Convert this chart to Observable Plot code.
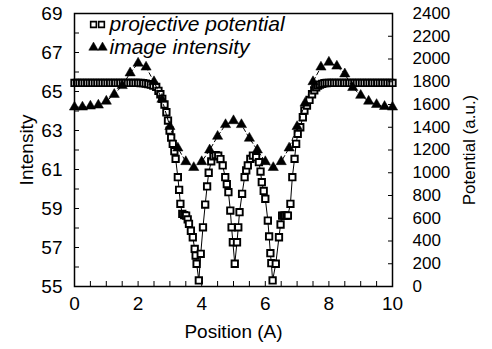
<!DOCTYPE html>
<html>
<head>
<meta charset="utf-8">
<script src="https://cdn.jsdelivr.net/npm/d3@7"></script>
<script src="https://cdn.jsdelivr.net/npm/@observablehq/plot@0.6"></script>
<style>
  html, body { margin: 0; padding: 0; background: white; }
  #chart { width: 492px; height: 349px; }
</style>
</head>
<body>
<div id="chart"></div>
<script>
// ---- data ----
const potX = [0,0.08,0.16,0.24,0.32,0.4,0.48,0.56,0.64,0.72,0.8,0.88,0.96,1.04,1.12,1.2,1.28,1.36,1.44,1.52,1.6,1.68,1.76,1.84,1.92,2.0,
  2.08,2.16,2.24,2.32,2.4,2.48,2.57,2.64,2.7,2.76,2.83,2.89,2.94,2.99,3.04,3.09,3.14,3.18,3.25,3.29,3.33,3.39,3.45,3.51,3.56,3.6,3.66,3.72,3.78,3.81,3.84,3.91,3.97,
  4.04,4.11,4.17,4.22,4.3,4.37,4.44,4.52,4.59,4.66,4.74,4.79,4.84,4.9,4.94,4.98,5.04,5.11,5.15,5.19,5.27,5.35,5.4,5.45,5.53,5.61,5.71,5.8,5.85,5.89,5.95,
  6.0,6.08,6.12,6.16,6.19,6.23,6.33,6.43,6.48,6.53,6.58,6.62,6.67,6.71,6.79,6.85,6.92,6.97,7.02,7.1,7.18,7.23,7.31,7.39,7.47,7.54,7.6,7.66,7.72,7.79,7.86,7.93,
  8.0,8.08,8.16,8.24,8.32,8.4,8.48,8.56,8.64,8.72,8.8,8.88,8.96,9.04,9.12,9.2,9.28,9.36,9.44,9.52,9.6,9.68,9.76,9.84,9.92,10.0];
const potential = [1790,1790,1790,1790,1790,1790,1790,1790,1790,1790,1790,1790,1790,1790,1790,1790,1790,1790,1790,1790,1790,1790,1790,1790,1790,1790,
  1789,1787,1784,1780,1774,1766,1755,1720,1690,1650,1600,1532,1459,1371,1310,1254,1190,1122,961,850,727,639,628,624,590,551,490,433,330,272,200,53,287,
  520,720,880,1000,1100,1145,1155,1150,1120,1064,961,900,829,668,520,389,200,389,520,653,815,961,1020,1064,1122,1151,1137,1093,1010,917,840,
  771,580,440,293,205,53,200,433,545,624,624,624,624,624,727,961,1122,1254,1342,1400,1488,1547,1591,1640,1690,1725,1750,1765,1775,1782,1787,1789,
  1790,1790,1790,1790,1790,1790,1790,1790,1790,1790,1790,1790,1790,1790,1790,1790,1790,1790,1790,1790,1790,1790,1790,1790,1790,1790];

const imgX = [0,0.25,0.5,0.75,1.0,1.25,1.5,1.75,2.0,2.25,2.5,2.75,3.0,3.25,3.5,3.75,4.0,4.25,4.5,4.75,5.0,
  5.25,5.5,5.75,6.0,6.25,6.5,6.75,7.0,7.25,7.5,7.75,8.0,8.25,8.5,8.75,9.0,9.25,9.5,9.75,10.0];
const intensity = [64.2,64.2,64.25,64.3,64.5,64.85,65.3,65.95,66.45,66.25,65.5,64.6,63.2,62.1,61.4,61.1,61.4,62.0,62.7,63.3,63.5,
  63.3,62.6,62.0,61.4,61.1,61.4,62.1,63.2,64.4,65.5,66.25,66.5,66.3,65.9,65.2,64.8,64.5,64.33,64.23,64.2];

const xTickLabels = [0,2,4,6,8,10];
const xTicks = [0,0.5,1,1.5,2,2.5,3,3.5,4,4.5,5,5.5,6,6.5,7,7.5,8,8.5,9,9.5,10];
const yTickLabels = [55,57,59,61,63,65,67,69];
const yTicks = [55,56,57,58,59,60,61,62,63,64,65,66,67,68,69];
const potTicks = [0,200,400,600,800,1000,1200,1400,1600,1800,2000,2200,2400];
const seriesNames = ["projective potential", "image intensity"];

// ---- mapping of the right (potential) axis onto the left (intensity) scale ----
const yMin = 55, yMax = 69, pMax = 2400;
const toY = p => yMin + p * (yMax - yMin) / pMax;
const toP = y => Math.round((y - yMin) * pMax / (yMax - yMin));

const potData = potX.map((x, i) => ({x, y: toY(potential[i])}));
const imgData = imgX.map((x, i) => ({x, y: intensity[i]}));

const font = "'Liberation Sans', Arial, Helvetica, sans-serif";
const sq = {symbol: "square", r: 3.6, stroke: "black", fill: "white", strokeWidth: 1.9};
const tri = {symbol: "triangle", r: 3.8, fill: "black", stroke: "black", strokeWidth: 0.5};

const chart = Plot.plot({
  width: 492,
  height: 349,
  marginLeft: 74,
  marginRight: 100,
  marginTop: 13,
  marginBottom: 63,
  x: {domain: [0, 10]},
  y: {domain: [yMin, yMax]},
  style: {fontFamily: font, fontSize: "20px", color: "black", background: "white", overflow: "visible"},
  marks: [
    Plot.line(potData, {x: "x", y: "y", stroke: "black", strokeWidth: 1}),
    Plot.dot(potData, {x: "x", y: "y", ...sq}),
    Plot.line(imgData, {x: "x", y: "y", stroke: "black", strokeWidth: 1, strokeDasharray: "4,3"}),
    Plot.dot(imgData, {x: "x", y: "y", ...tri}),
    Plot.frame({stroke: "black", strokeWidth: 1.5}),
    // inward ticks
    Plot.axisY(yTicks, {anchor: "left", tickSize: 5, dx: 5, tickFormat: () => "", label: null}),
    Plot.axisY(potTicks.map(toY), {anchor: "right", tickSize: 5, dx: -5, tickFormat: () => "", label: null}),
    Plot.axisX(xTicks, {anchor: "bottom", tickSize: 5, dy: -5, tickFormat: () => "", label: null}),
    // labels
    Plot.axisY(yTickLabels, {anchor: "left", tickSize: 0, tickPadding: 12, fontSize: 19,
      label: "Intensity", labelArrow: "none", labelAnchor: "center", labelOffset: 55}),
    Plot.axisY(potTicks.map(toY), {anchor: "right", tickSize: 0, tickPadding: 20, fontSize: 17,
      tickFormat: d => String(toP(d)), label: "Potential (a.u.)", labelArrow: "none", labelAnchor: "center", labelOffset: 82}),
    Plot.axisX(xTickLabels, {anchor: "bottom", tickSize: 0, tickPadding: 10, fontSize: 19,
      label: "Position (A)", labelArrow: "none", labelAnchor: "center", labelOffset: 51}),
    // legend
    Plot.dot([seriesNames[0]], {frameAnchor: "top-left", dx: 19, dy: 11, ...sq, r: 3.2, strokeWidth: 1.6}),
    Plot.dot([seriesNames[0]], {frameAnchor: "top-left", dx: 27, dy: 11, ...sq, r: 3.2, strokeWidth: 1.6}),
    Plot.text([seriesNames[0]], {frameAnchor: "top-left", dx: 35, dy: 11, text: d => d, textAnchor: "start", lineAnchor: "middle", fontStyle: "italic", fontSize: 21}),
    Plot.dot([seriesNames[1]], {frameAnchor: "top-left", dx: 19, dy: 34, ...tri, r: 3.5}),
    Plot.dot([seriesNames[1]], {frameAnchor: "top-left", dx: 28, dy: 34, ...tri, r: 3.5}),
    Plot.text([seriesNames[1]], {frameAnchor: "top-left", dx: 35, dy: 34, text: d => d, textAnchor: "start", lineAnchor: "middle", fontStyle: "italic", fontSize: 21})
  ]
});

document.getElementById("chart").appendChild(chart);
</script>
</body>
</html>
